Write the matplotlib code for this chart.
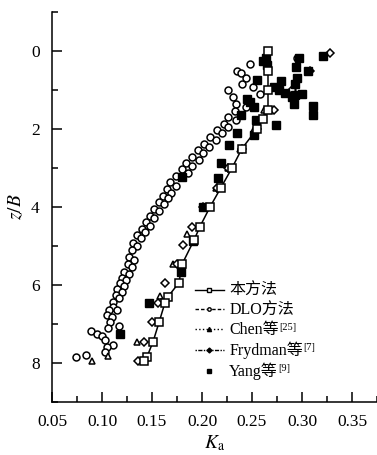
import matplotlib
matplotlib.use("Agg")
import matplotlib.pyplot as plt
from matplotlib.lines import Line2D
from matplotlib.ticker import MultipleLocator

plt.rcParams['font.family'] = ['Liberation Serif', 'Noto Sans CJK SC']
plt.rcParams['mathtext.fontset'] = 'stix'

# 本方法 (solid line, open squares)
ours_z = [0, 0.5, 1.0, 1.5, 1.75, 2.0, 2.5, 3.0, 3.5, 4.0, 4.5, 4.85, 5.47, 5.94, 6.3, 6.45, 6.96, 7.46, 7.84, 7.95]
ours_k = [0.266, 0.266, 0.266, 0.266, 0.261, 0.255, 0.240, 0.230, 0.219, 0.208, 0.198, 0.192, 0.180, 0.177, 0.166, 0.163, 0.157, 0.151, 0.145, 0.142]

# DLO方法 (open circles)
dlo_z = [0.17, 0.33, 0.51, 0.57, 0.68, 0.85, 0.93, 1.01, 1.10, 1.18, 1.35, 1.43, 1.53, 1.69, 1.77,
         1.86, 1.95, 2.03, 2.11, 2.20, 2.28, 2.38, 2.45, 2.53, 2.62, 2.71, 2.80, 2.88, 2.95, 3.03,
         3.14, 3.20, 3.37, 3.47, 3.54, 3.63, 3.71, 3.77, 3.88, 3.92, 4.05, 4.11, 4.22, 4.29, 4.39,
         4.48, 4.56, 4.63, 4.73, 4.80, 4.92, 4.99, 5.11, 5.28, 5.35, 5.45, 5.54, 5.66, 5.73, 5.83,
         5.88, 5.96, 6.02, 6.11, 6.17, 6.26, 6.33, 6.43, 6.57, 6.64, 6.64, 6.77, 6.83, 6.94, 7.04,
         7.11, 7.19, 7.26, 7.32, 7.41, 7.53, 7.60, 7.72, 7.80, 7.85]
dlo_k = [0.295, 0.248, 0.235, 0.239, 0.244, 0.240, 0.251, 0.226, 0.258, 0.231, 0.234, 0.244, 0.233, 0.226, 0.234,
         0.222, 0.226, 0.215, 0.220, 0.208, 0.214, 0.202, 0.207, 0.196, 0.201, 0.190, 0.197, 0.184, 0.190, 0.180,
         0.186, 0.174, 0.168, 0.174, 0.165, 0.169, 0.161, 0.166, 0.157, 0.162, 0.152, 0.157, 0.148, 0.152, 0.144,
         0.148, 0.140, 0.143, 0.135, 0.139, 0.131, 0.135, 0.130, 0.127, 0.132, 0.126, 0.130, 0.122, 0.127, 0.120,
         0.124, 0.118, 0.122, 0.115, 0.120, 0.114, 0.117, 0.111, 0.111, 0.115, 0.107, 0.105, 0.110, 0.108, 0.117,
         0.106, 0.089, 0.095, 0.100, 0.103, 0.111, 0.105, 0.103, 0.084, 0.074]

# Chen等 (open triangles)
chen_z = [1.5, 2.0, 2.5, 3.0, 3.5, 4.0, 4.7, 5.45, 6.28, 7.45, 7.83, 7.96]
chen_k = [0.262, 0.252, 0.238, 0.226, 0.214, 0.203, 0.185, 0.171, 0.158, 0.135, 0.106, 0.090]

# Frydman等 (open diamonds)
fryd_z = [0.06, 0.5, 1.0, 1.5, 2.0, 2.5, 3.0, 3.5, 4.0, 4.5, 4.98, 5.45, 5.95, 6.45, 6.96, 7.47, 7.96]
fryd_k = [0.328, 0.308, 0.290, 0.272, 0.255, 0.240, 0.226, 0.215, 0.201, 0.190, 0.181, 0.175, 0.163, 0.156, 0.150, 0.142, 0.136]

# Yang等 (filled squares)
yang_z = [0.14, 0.17, 0.19, 0.25, 0.36, 0.42, 0.51, 0.70, 0.74, 0.78, 0.85, 0.93, 1.01, 1.08, 1.10, 1.12, 1.18,
          1.22, 1.31, 1.36, 1.40, 1.44, 1.65, 1.65, 1.78, 1.89, 2.10, 2.16, 2.41, 2.86, 3.24, 3.26, 4.0, 4.86,
          5.66, 6.45, 7.26]
yang_k = [0.321, 0.297, 0.264, 0.261, 0.265, 0.294, 0.306, 0.295, 0.255, 0.279, 0.293, 0.272, 0.277, 0.283, 0.300, 0.293, 0.290,
          0.245, 0.248, 0.292, 0.311, 0.252, 0.239, 0.311, 0.254, 0.274, 0.235, 0.252, 0.227, 0.219, 0.180, 0.216, 0.201, 0.191,
          0.179, 0.147, 0.118]

labels = ['本方法', 'DLO方法', 'Chen等', 'Frydman等', 'Yang等']
refs = ['', '', '[25]', '[7]', '[9]']

fig = plt.figure(figsize=(3.77, 4.55), dpi=100)
ax = fig.add_axes([52 / 377, 1 - 402 / 455, 325 / 377, 390 / 455])

ms = 5
ax.plot(dlo_k, dlo_z, 'o', ls='none', mfc='white', mec='black', ms=ms, mew=1.1)
ax.plot(chen_k, chen_z, '^', ls='none', mfc='white', mec='black', ms=ms, mew=1.1)
ax.plot(fryd_k, fryd_z, 'D', ls='none', mfc='white', mec='black', ms=4.5, mew=1.1)
ax.plot(yang_k, yang_z, 's', ls='none', mfc='black', mec='black', ms=5.5)
ax.plot(ours_k, ours_z, '-s', color='black', lw=1.1, mfc='white', mec='black', ms=5.5, mew=1.1)

ax.set_xlim(0.05, 0.375)
ax.set_ylim(9, -1)
ax.xaxis.set_minor_locator(MultipleLocator(0.025))
ax.yaxis.set_minor_locator(MultipleLocator(1))
ax.set_xticks([0.05, 0.10, 0.15, 0.20, 0.25, 0.30, 0.35])
ax.set_xticklabels(['0.05', '0.10', '0.15', '0.20', '0.25', '0.30', '0.35'])
ax.set_yticks([0, 2, 4, 6, 8])
for s in ['top', 'right']:
    ax.spines[s].set_visible(False)
for s in ['left', 'bottom']:
    ax.spines[s].set_linewidth(1.1)
ax.tick_params(which='major', direction='in', length=7.5, width=1.1, labelsize=12.5, pad=9)
ax.tick_params(which='minor', direction='in', length=4.5, width=1.1)

ax.set_xlabel(r'$K_{\rm a}$', fontsize=14, labelpad=2)
ax.set_ylabel(r'$z/B$', fontsize=14, labelpad=4)

handles = [
    Line2D([], [], color='black', ls='-', lw=1, marker='s', ms=2.5, mfc='white'),
    Line2D([], [], color='black', ls=(0, (2.5, 1.5)), lw=1, marker='o', ms=2.5, mfc='white'),
    Line2D([], [], color='black', ls=':', lw=1, marker='^', ms=3),
    Line2D([], [], color='black', ls=(0, (1, 1, 3, 1)), lw=1, marker='D', ms=2.5),
    Line2D([], [], color='black', ls='none', marker='s', ms=3),
]
leg = ax.legend(handles, labels, loc='upper left', bbox_to_anchor=(0.415, 0.325), frameon=False,
                fontsize=11.5, handlelength=1.8, handletextpad=0.35, labelspacing=0.22, borderpad=0)

# superscript reference numbers after the legend labels
fig.canvas.draw()
inv = fig.transFigure.inverted()
for t, r in zip(leg.get_texts(), refs):
    if r:
        bb = t.get_window_extent()
        x, y = inv.transform((bb.x1 + 0.5, bb.y1 - 1))
        fig.text(x, y, r, fontsize=7.5, va='top', ha='left')

fig.savefig('out.png', dpi=100)
